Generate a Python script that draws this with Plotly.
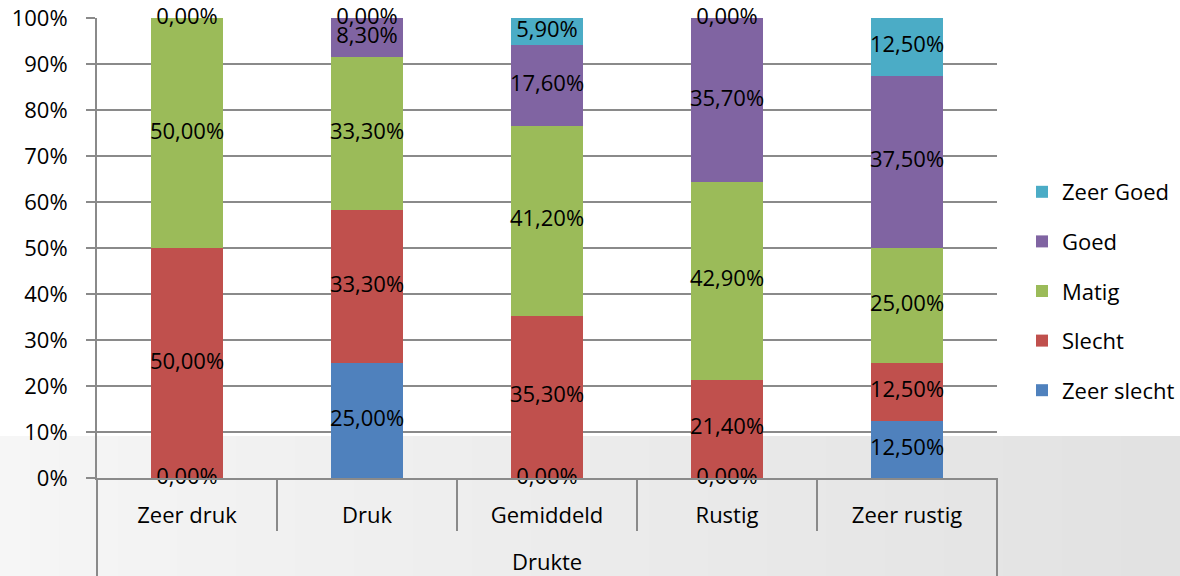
import plotly.graph_objects as go

categories = ["Zeer druk", "Druk", "Gemiddeld", "Rustig", "Zeer rustig"]
group_label = "Drukte"
series_names = ["Zeer slecht", "Slecht", "Matig", "Goed", "Zeer Goed"]
zeer_slecht = [0.0, 25.0, 0.0, 0.0, 12.5]
slecht = [50.0, 33.3, 35.3, 21.4, 12.5]
matig = [50.0, 33.3, 41.2, 42.9, 25.0]
goed = [0.0, 8.3, 17.6, 35.7, 37.5]
zeer_goed = [None, 0.0, 5.9, 0.0, 12.5]
y_ticks = list(range(0, 101, 10))

colors = ["#4F81BD", "#C0504D", "#9BBB59", "#8064A2", "#4BACC6"]
FONT = "Open Sans"
GRID = "#8A8A8A"
FS = 22

fig = go.Figure()

all_series = [zeer_slecht, slecht, matig, goed, zeer_goed]
base = [0.0] * len(categories)
lab_x, lab_y, lab_t = [], [], []
for k, (name, vals, col) in enumerate(zip(series_names, all_series, colors)):
    fig.add_trace(go.Bar(
        x=categories, y=vals, name=name, marker_color=col, marker_line_width=0,
        legendgroup=name, legendrank=100 - k, hoverinfo="skip",
    ))
    for i, v in enumerate(vals):
        if v is None:
            continue
        lab_x.append(categories[i])
        lab_y.append(base[i] + v / 2)
        lab_t.append(f"{v:.2f}%".replace(".", ","))
        base[i] += v

# data labels, drawn on the overlay axis that also carries the separators
fig.add_trace(go.Scatter(
    x=lab_x, y=lab_y, text=lab_t, mode="text", xaxis="x2",
    textposition="middle center", showlegend=False, hoverinfo="skip",
    textfont=dict(family=FONT, size=FS, color="black"), cliponaxis=False,
))

# grey gradient band at the bottom of the picture
n = 40
for k in range(n):
    g = int(246 - (246 - 226) * k / (n - 1))
    fig.add_shape(type="rect", xref="paper", yref="paper", layer="below",
                  x0=-97 / 900 + k * (1180 / 900) / n,
                  x1=-97 / 900 + (k + 1) * (1180 / 900) / n + 0.001,
                  y0=-98 / 460, y1=(478 - 436) / 460,
                  fillcolor=f"rgb({g},{g},{g})", line_width=0)

# long outer dividers of the category axis
for xp in (0, 1):
    fig.add_shape(type="line", xref="paper", yref="paper",
                  x0=xp, x1=xp, y0=0, y1=-98 / 460,
                  line=dict(color=GRID, width=2))

fig.add_annotation(text=group_label, xref="paper", yref="paper",
                   x=0.5, y=(478 - 561) / 460, xanchor="center", yanchor="middle",
                   showarrow=False, font=dict(family=FONT, size=FS, color="black"))

fig.update_layout(
    barmode="stack", bargap=0.6,
    width=1180, height=576,
    margin=dict(l=97, r=183, t=18, b=98, autoexpand=False),
    paper_bgcolor="white", plot_bgcolor="rgba(0,0,0,0)",
    font=dict(family=FONT, size=FS, color="black"),
    legend=dict(
        traceorder="grouped", xref="container", x=1022 / 1180, xanchor="left",
        yref="container", y=(576 - 291) / 576, yanchor="middle", itemwidth=30,
        tracegroupgap=18, font=dict(size=FS), bgcolor="rgba(0,0,0,0)",
    ),
    showlegend=True,
    yaxis=dict(
        range=[0, 100], tickvals=y_ticks, ticktext=[f"{t}%" for t in y_ticks],
        showgrid=True, gridcolor=GRID, gridwidth=2,
        showline=True, linecolor=GRID, linewidth=2,
        ticks="outside", ticklen=9, tickcolor=GRID, tickwidth=2,
        ticklabelstandoff=14, zeroline=False, automargin=False,
    ),
    xaxis=dict(
        type="category", categoryarray=categories, showline=True,
        linecolor=GRID, linewidth=2, ticks="", showgrid=False,
        ticklabelstandoff=17, automargin=False,
    ),
    xaxis2=dict(
        type="category", categoryarray=categories, overlaying="x",
        matches="x", anchor="y", side="bottom", showticklabels=False,
        tickson="boundaries", ticks="outside", ticklen=52, tickcolor=GRID,
        tickwidth=2, showgrid=False, showline=False, automargin=False,
    ),
)

fig.write_html("out.html", config={"displayModeBar": False},
               post_script="document.body.style.margin='0';")
